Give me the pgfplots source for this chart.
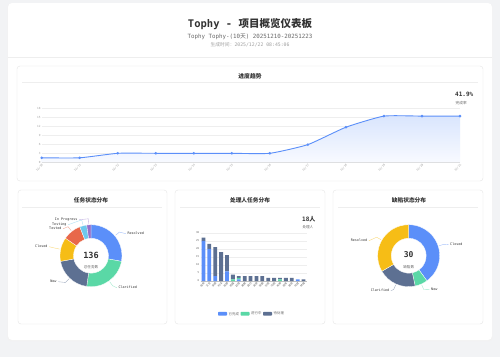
\documentclass[border=0pt]{standalone}
\usepackage{fontspec}
\setmainfont{Noto Sans CJK SC}
\setmonofont{DejaVu Sans Mono}
\usepackage{pgfplots}
\pgfplotsset{compat=1.18}
\usetikzlibrary{calc}
\definecolor{cBlue}{HTML}{5B8FF9}
\definecolor{cGreen}{HTML}{5AD8A6}
\definecolor{cSlate}{HTML}{5D7092}
\definecolor{cYellow}{HTML}{F6BD16}
\definecolor{cRed}{HTML}{E8684A}
\definecolor{cCyan}{HTML}{6DC8EC}
\definecolor{cPurple}{HTML}{9270CA}
\definecolor{bgc}{HTML}{F2F3F5}
\definecolor{cardc}{HTML}{E6E6E6}
\definecolor{txt}{HTML}{333333}
\definecolor{sub}{HTML}{666666}
\definecolor{lite}{HTML}{A0A0A0}
\definecolor{gridc}{HTML}{EEEEEE}
\definecolor{fillTop}{HTML}{D9E5FD}
\definecolor{fillBot}{HTML}{F8FAFF}
\newcommand\fs[1]{\fontsize{#1}{#1}\selectfont}
\pgfplotstableread{
x y
0 1.5
1 1.5
2 3
3 3
4 3
5 3
6 3
7 5.9
8 11.7
9 15.4
10 15.4
11 15.4
}\trend
\begin{document}
\begin{tikzpicture}
\begin{scope}[x=1pt,y=-1pt]
\useasboundingbox (0,0) rectangle (500,357);
\fill[bgc] (0,0) rectangle (500,357);
\fill[black!5, rounded corners=4pt] (7.3,3.5) rectangle (492.7,341.2);
\fill[white, rounded corners=4pt] (8,3) rectangle (492,340);
\node[font=\fs{10.5}\bfseries, text=txt, inner sep=0] at (250,24) {\ttfamily Tophy - \rmfamily 项目概览仪表板};
\node[font=\fs{5.8}\ttfamily, text=sub, inner sep=0] at (250,36.5) {Tophy Tophy-(10{\rmfamily 天}) 20251210-20251223};
\node[font=\fs{4.8}\ttfamily, text=lite, inner sep=0] at (250,45) {{\rmfamily 生成时间：}2025/12/22 08:45:06};
\draw[gridc, line width=0.6pt] (8,57) -- (492,57);
% cards
\draw[cardc, fill=white, rounded corners=3pt, line width=0.4pt] (17,66) rectangle (483,181);
\draw[cardc, fill=white, rounded corners=3pt, line width=0.4pt] (18,190) rectangle (167,324);
\draw[cardc, fill=white, rounded corners=3pt, line width=0.4pt] (175,190) rectangle (325,324);
\draw[cardc, fill=white, rounded corners=3pt, line width=0.4pt] (333,190) rectangle (483,324);
\node[font=\fs{5.8}\bfseries, text=txt, inner sep=0] at (250,76) {进度趋势};
\draw[gridc, line width=0.4pt] (22,82) -- (478,82);
\node[font=\fs{6}\ttfamily\bfseries, text=txt, inner sep=0, anchor=west] at (455,94.7) {41.9\%};
\node[font=\fs{3.7}, text=sub, inner sep=0, anchor=west] at (455.5,102.7) {完成率};
\node[font=\fs{5.7}\bfseries, text=txt, inner sep=0] at (91,200.5) {任务状态分布};
\node[font=\fs{5.7}\bfseries, text=txt, inner sep=0] at (250,200.5) {处理人任务分布};
\node[font=\fs{5.7}\bfseries, text=txt, inner sep=0] at (409,200.5) {缺陷状态分布};
\draw[gridc, line width=0.4pt] (22,207) -- (162,207);
\draw[gridc, line width=0.4pt] (180,207) -- (320,207);
\draw[gridc, line width=0.4pt] (338,207) -- (478,207);
\node[font=\fs{6}\bfseries, text=txt, inner sep=0, anchor=west] at (302,219) {{\ttfamily 18}人};
\node[font=\fs{3.6}, text=sub, inner sep=0, anchor=west] at (302.3,227.5) {处理人};
% legend
\fill[cBlue, rounded corners=0.8pt] (218,311.8) rectangle (227,315.6);
\node[font=\fs{3.4}, text=sub, inner sep=0, anchor=west] at (228.5,313.7) {已完成};
\fill[cGreen, rounded corners=0.8pt] (240.5,311.8) rectangle (249.5,315.6);
\node[font=\fs{3.4}, text=sub, inner sep=0, anchor=west] at (251,313.7) {进行中};
\fill[cSlate, rounded corners=0.8pt] (263,311.8) rectangle (272,315.6);
\node[font=\fs{3.4}, text=sub, inner sep=0, anchor=west] at (273.5,313.7) {待处理};
\end{scope}

% ---------- trend line ----------
\begin{axis}[at={(41.7pt,-162.3pt)}, anchor=south west, scale only axis,
  width=418.3pt, height=54pt, xmin=0, xmax=11, ymin=0, ymax=18,
  ytick={0,3,...,18}, xtick={0,...,11},
  xticklabels={12/10,12/11,12/12,12/13,12/14,12/15,12/16,12/17,12/18,12/19,12/20,12/21},
  axis lines*=left, axis line style={-}, y axis line style={draw=none},
  x axis line style={draw=black!18, line width=1pt},
  tick style={draw=none}, ymajorgrids, grid style={gridc, line width=0.3pt},
  /pgf/number format/assume math mode=true,
  tick label style={font=\fs{2.8}\ttfamily, text=lite},
  xticklabel style={rotate=45, anchor=north east, inner sep=1pt},
  yticklabel style={inner sep=1pt},
  clip=false]
\addplot[draw=none, top color=fillTop, bottom color=fillBot, smooth, tension=0.3] table[x=x,y=y] {\trend} \closedcycle;
\addplot[cBlue, line width=0.9pt, smooth, tension=0.3, mark=*, mark size=0.8pt, mark options={fill=cBlue, draw=cBlue}] table[x=x,y=y] {\trend};
\end{axis}

% ---------- stacked bars ----------
\begin{axis}[at={(200.5pt,-281pt)}, anchor=south west, scale only axis,
  width=106pt, height=48.3pt, ybar stacked, bar width=3.8pt,
  xmin=-0.5, xmax=17.5, ymin=0, ymax=30, ytick={0,5,...,30}, xtick={0,...,17},
  xticklabels={张伟,王芳,李娜,刘洋,陈静,杨磊,赵强,黄敏,周杰,吴婷,徐鹏,孙丽,马超,朱琳,胡军,郭燕,何斌,林峰},
  axis lines*=left, axis line style={-}, y axis line style={draw=none},
  x axis line style={draw=black!25, line width=0.4pt},
  tick style={draw=none}, ymajorgrids, grid style={gridc, line width=0.3pt},
  /pgf/number format/assume math mode=true,
  tick label style={font=\fs{2.6}, text=sub},
  yticklabel style={font=\fs{2.6}\ttfamily, inner sep=1pt},
  xticklabel style={rotate=45, anchor=north east, inner sep=0.8pt},
  clip=false]
\addplot[fill=cBlue, draw=none] coordinates {(0,25) (1,20) (2,3) (3,0) (4,6) (5,0) (6,1) (7,0) (8,0) (9,0) (10,0) (11,0) (12,0) (13,0) (14,0) (15,0) (16,1) (17,0)};
\addplot[fill=cGreen, draw=none] coordinates {(0,0) (1,0) (2,0) (3,0) (4,0) (5,1) (6,1) (7,0) (8,0) (9,0) (10,0) (11,0) (12,0) (13,1) (14,0) (15,0) (16,0) (17,0)};
\addplot[fill=cSlate, draw=none] coordinates {(0,2) (1,3) (2,18) (3,18) (4,10) (5,3) (6,1) (7,3) (8,3) (9,3) (10,3) (11,2) (12,2) (13,1) (14,2) (15,2) (16,0) (17,1)};
\end{axis}

% ---------- donut: tasks ----------
\begin{axis}[at={(91pt,-255.7pt)}, anchor=center, scale only axis, hide axis,
  width=62pt, height=62pt, xmin=-1, xmax=1, ymin=-1, ymax=1, clip=false]
\addplot[draw=none] coordinates {(0,0)};
\pgfplotsextra{
  \gdef\startang{90}
  \foreach \v/\c/\name/\lx/\ly/\side in {38/cBlue/Resolved/36/22/1, 33/cGreen/Clarified/27/-32/1, 27/cSlate/New/-34/-26/-1, 17/cYellow/Closed/-43/9/-1, 13/cRed/Tested/-29/27/-1, 5/cCyan/Testing/-24/31/-1, 3/cPurple/In Progress/-13/36/-1}{
    \pgfmathsetmacro\a{\startang}
    \pgfmathsetmacro\b{\startang-\v*360/136}
    \pgfmathsetmacro\m{(\a+\b)/2}
    \fill[\c, draw=white, line width=0.3pt] ($(axis cs:0,0)+(\a:31pt)$) arc[start angle=\a, end angle=\b, radius=31pt] -- ($(axis cs:0,0)+(\b:17.5pt)$) arc[start angle=\b, end angle=\a, radius=17.5pt] -- cycle;
    \draw[\c!60, line width=0.35pt] ($(axis cs:0,0)+(\m:32pt)$) -- ($(axis cs:0,0)+(\m:37pt)$) -- ($(axis cs:0,0)+(\lx pt-\side*1.2pt,\ly pt)$);
    \ifnum\side>0
      \node[anchor=west, inner sep=0.3pt, font=\fs{3.4}\ttfamily, text=txt] at ($(axis cs:0,0)+(\lx pt,\ly pt)$) {\name};
    \else
      \node[anchor=east, inner sep=0.3pt, font=\fs{3.4}\ttfamily, text=txt] at ($(axis cs:0,0)+(\lx pt,\ly pt)$) {\name};
    \fi
    \xdef\startang{\b}
  }
}
\node[font=\fs{8.5}\ttfamily\bfseries, text=txt, inner sep=0] at (axis cs:0,0.02) {136};
\node[font=\fs{3.6}, text=sub, inner sep=0] at (axis cs:0,-0.365) {总任务数};
\end{axis}

% ---------- donut: defects ----------
\begin{axis}[at={(408.7pt,-255.7pt)}, anchor=center, scale only axis, hide axis,
  width=62pt, height=62pt, xmin=-1, xmax=1, ymin=-1, ymax=1, clip=false]
\addplot[draw=none] coordinates {(0,0)};
\pgfplotsextra{
  \gdef\startang{90}
  \foreach \v/\c/\name/\lx/\ly/\side in {12/cBlue/Closed/41/11/1, 2/cGreen/New/22/-34/1, 6/cSlate/Clarified/-19/-35/-1, 10/cYellow/Resolved/-41/15/-1}{
    \pgfmathsetmacro\a{\startang}
    \pgfmathsetmacro\b{\startang-\v*360/30}
    \pgfmathsetmacro\m{(\a+\b)/2}
    \fill[\c, draw=white, line width=0.3pt] ($(axis cs:0,0)+(\a:31pt)$) arc[start angle=\a, end angle=\b, radius=31pt] -- ($(axis cs:0,0)+(\b:17.5pt)$) arc[start angle=\b, end angle=\a, radius=17.5pt] -- cycle;
    \draw[\c!60, line width=0.35pt] ($(axis cs:0,0)+(\m:32pt)$) -- ($(axis cs:0,0)+(\m:37pt)$) -- ($(axis cs:0,0)+(\lx pt-\side*1.2pt,\ly pt)$);
    \ifnum\side>0
      \node[anchor=west, inner sep=0.3pt, font=\fs{3.4}\ttfamily, text=txt] at ($(axis cs:0,0)+(\lx pt,\ly pt)$) {\name};
    \else
      \node[anchor=east, inner sep=0.3pt, font=\fs{3.4}\ttfamily, text=txt] at ($(axis cs:0,0)+(\lx pt,\ly pt)$) {\name};
    \fi
    \xdef\startang{\b}
  }
}
\node[font=\fs{8}\ttfamily\bfseries, text=txt, inner sep=0] at (axis cs:0,0.02) {30};
\node[font=\fs{3.6}, text=sub, inner sep=0] at (axis cs:0,-0.365) {缺陷数};
\end{axis}
\end{tikzpicture}
\end{document}
